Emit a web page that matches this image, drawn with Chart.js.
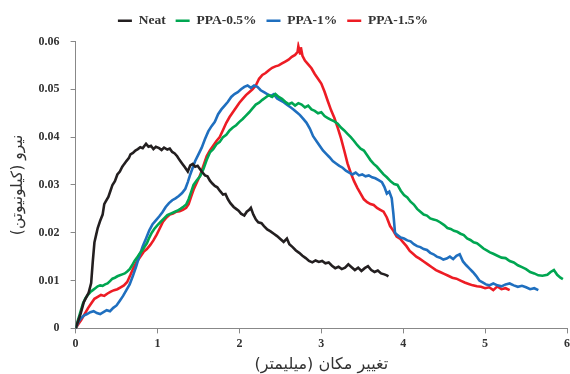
<!DOCTYPE html>
<html>
<head>
<meta charset="utf-8">
<script src="https://cdn.jsdelivr.net/npm/chart.js@4/dist/chart.umd.min.js"></script>
<style>
html,body{margin:0;padding:0;background:#fff;}
#wrap{width:570px;height:374px;}
</style>
</head>
<body>
<div id="wrap"><canvas id="c" width="570" height="374"></canvas></div>
<script>
const seriesNames = ["Neat", "PPA-0.5%", "PPA-1%", "PPA-1.5%"];
const xTicks = [0, 1, 2, 3, 4, 5, 6];
const yTicks = [0, 0.01, 0.02, 0.03, 0.04, 0.05, 0.06];
const xTitle = "تغییر مکان (میلیمتر)";
const yTitle = "نیرو (کیلونیوتن)";

const neatX = [0,0.03,0.06,0.10,0.13,0.16,0.19,0.21,0.23,0.25,0.27,0.30,0.33,0.35,0.37,0.40,0.43,0.45,0.48,0.51,0.54,0.57,0.59,0.62,0.65,0.67,0.70,0.73,0.76,0.79,0.82,0.86,0.89,0.92,0.95,0.98,1.02,1.05,1.08,1.12,1.15,1.18,1.21,1.24,1.27,1.30,1.33,1.37,1.40,1.43,1.46,1.49,1.52,1.55,1.58,1.61,1.64,1.67,1.70,1.73,1.76,1.80,1.83,1.86,1.89,1.93,1.96,1.99,2.02,2.06,2.09,2.12,2.14,2.17,2.20,2.23,2.27,2.30,2.34,2.38,2.42,2.46,2.50,2.54,2.58,2.61,2.65,2.69,2.73,2.77,2.81,2.85,2.89,2.93,2.97,3.01,3.05,3.09,3.13,3.17,3.21,3.25,3.29,3.33,3.37,3.41,3.45,3.49,3.53,3.57,3.61,3.65,3.69,3.73,3.77,3.80,3.82];
const neatY = [0,0.0015,0.0030,0.0055,0.0065,0.0075,0.0095,0.0140,0.0180,0.0195,0.0210,0.0225,0.0238,0.0260,0.0266,0.0275,0.0290,0.0300,0.0308,0.0322,0.0328,0.0338,0.0343,0.0350,0.0356,0.0364,0.0367,0.0372,0.0375,0.0379,0.0377,0.0386,0.0380,0.0382,0.0375,0.0380,0.0377,0.0373,0.0378,0.0374,0.0376,0.0369,0.0366,0.0360,0.0352,0.0345,0.0338,0.0328,0.0341,0.0344,0.0338,0.0340,0.0333,0.0326,0.0320,0.0318,0.0309,0.0303,0.0298,0.0295,0.0288,0.0280,0.0281,0.0270,0.0262,0.0254,0.0250,0.0246,0.0240,0.0236,0.0244,0.0248,0.0252,0.0238,0.0228,0.0222,0.0220,0.0214,0.0207,0.0203,0.0198,0.0193,0.0187,0.0181,0.0188,0.0176,0.0170,0.0163,0.0158,0.0152,0.0147,0.0141,0.0138,0.0142,0.0139,0.0141,0.0136,0.0138,0.0131,0.0126,0.0129,0.0124,0.0127,0.0134,0.0128,0.0122,0.0127,0.0120,0.0126,0.0130,0.0122,0.0118,0.0121,0.0115,0.0113,0.0111,0.0109];

const ppa05X = [0,0.03,0.06,0.09,0.12,0.15,0.18,0.21,0.24,0.27,0.30,0.33,0.36,0.39,0.42,0.45,0.48,0.51,0.54,0.57,0.60,0.63,0.66,0.69,0.72,0.75,0.78,0.81,0.84,0.87,0.90,0.93,0.96,1.00,1.04,1.08,1.12,1.16,1.20,1.24,1.28,1.32,1.35,1.38,1.41,1.44,1.48,1.52,1.56,1.60,1.64,1.68,1.72,1.76,1.80,1.84,1.88,1.92,1.96,2.00,2.04,2.08,2.12,2.16,2.20,2.24,2.28,2.32,2.36,2.40,2.44,2.48,2.52,2.56,2.60,2.64,2.68,2.72,2.76,2.80,2.84,2.88,2.92,2.96,3.00,3.04,3.08,3.12,3.16,3.20,3.24,3.28,3.32,3.36,3.40,3.44,3.48,3.52,3.56,3.60,3.64,3.68,3.72,3.76,3.80,3.85,3.89,3.93,3.97,4.01,4.05,4.09,4.13,4.17,4.21,4.25,4.29,4.33,4.37,4.41,4.45,4.50,4.54,4.58,4.62,4.66,4.70,4.74,4.78,4.82,4.86,4.90,4.94,4.98,5.02,5.06,5.10,5.15,5.20,5.25,5.30,5.35,5.40,5.45,5.50,5.55,5.60,5.65,5.70,5.76,5.80,5.84,5.88,5.92,5.95];
const ppa05Y = [0,0.0018,0.0035,0.0052,0.0063,0.0070,0.0076,0.0080,0.0084,0.0088,0.0090,0.0089,0.0092,0.0094,0.0099,0.0104,0.0106,0.0109,0.0111,0.0113,0.0115,0.0119,0.0124,0.0132,0.0141,0.0148,0.0156,0.0162,0.0170,0.0178,0.0190,0.0200,0.0208,0.0216,0.0223,0.0230,0.0237,0.0240,0.0243,0.0246,0.0250,0.0255,0.0259,0.0270,0.0285,0.0300,0.0310,0.0318,0.0333,0.0352,0.0368,0.0375,0.0385,0.0390,0.0400,0.0405,0.0414,0.0420,0.0425,0.0432,0.0438,0.0445,0.0452,0.0460,0.0468,0.0472,0.0478,0.0483,0.0488,0.0484,0.0490,0.0484,0.0480,0.0474,0.0469,0.0472,0.0466,0.0471,0.0468,0.0462,0.0466,0.0458,0.0455,0.0450,0.0452,0.0444,0.0440,0.0436,0.0433,0.0428,0.0420,0.0414,0.0407,0.0400,0.0392,0.0383,0.0376,0.0372,0.0362,0.0352,0.0344,0.0338,0.0330,0.0322,0.0316,0.0307,0.0302,0.0300,0.0288,0.0279,0.0274,0.0265,0.0259,0.0250,0.0244,0.0238,0.0236,0.0230,0.0228,0.0226,0.0222,0.0216,0.0210,0.0208,0.0204,0.0202,0.0198,0.0195,0.0188,0.0185,0.0180,0.0178,0.0173,0.0167,0.0163,0.0159,0.0156,0.0152,0.0148,0.0147,0.0141,0.0138,0.0132,0.0128,0.0124,0.0118,0.0115,0.0111,0.0110,0.0112,0.0118,0.0122,0.0112,0.0106,0.0103];

const ppa1X = [0,0.03,0.06,0.10,0.14,0.18,0.22,0.26,0.30,0.34,0.38,0.42,0.46,0.50,0.54,0.58,0.62,0.66,0.70,0.74,0.78,0.82,0.86,0.90,0.94,0.98,1.02,1.06,1.10,1.14,1.18,1.22,1.26,1.30,1.34,1.37,1.40,1.43,1.46,1.50,1.54,1.58,1.62,1.66,1.70,1.74,1.78,1.82,1.86,1.90,1.94,1.98,2.02,2.06,2.10,2.14,2.18,2.22,2.26,2.30,2.34,2.38,2.42,2.46,2.50,2.54,2.58,2.62,2.66,2.70,2.74,2.78,2.82,2.86,2.90,2.94,2.98,3.02,3.06,3.10,3.14,3.18,3.22,3.26,3.30,3.34,3.38,3.42,3.46,3.50,3.54,3.58,3.62,3.66,3.70,3.74,3.77,3.80,3.83,3.86,3.88,3.90,3.93,3.97,4.01,4.05,4.09,4.13,4.17,4.21,4.25,4.29,4.33,4.37,4.41,4.45,4.49,4.53,4.57,4.61,4.65,4.69,4.73,4.77,4.81,4.85,4.89,4.93,4.97,5.01,5.05,5.10,5.15,5.20,5.25,5.30,5.35,5.40,5.45,5.50,5.55,5.60,5.65];
const ppa1Y = [0,0.0012,0.0020,0.0027,0.0030,0.0034,0.0036,0.0032,0.0030,0.0034,0.0038,0.0036,0.0043,0.0048,0.0058,0.0068,0.0080,0.0092,0.0110,0.0130,0.0152,0.0172,0.0188,0.0205,0.0218,0.0226,0.0234,0.0243,0.0254,0.0262,0.0268,0.0272,0.0277,0.0283,0.0292,0.0306,0.0322,0.0336,0.0350,0.0364,0.0378,0.0396,0.0412,0.0423,0.0432,0.0448,0.0458,0.0466,0.0474,0.0484,0.0490,0.0494,0.0500,0.0505,0.0508,0.0503,0.0508,0.0505,0.0498,0.0494,0.0490,0.0486,0.0490,0.0481,0.0477,0.0473,0.0468,0.0463,0.0458,0.0452,0.0446,0.0438,0.0430,0.0418,0.0402,0.0392,0.0382,0.0372,0.0365,0.0358,0.0350,0.0345,0.0340,0.0336,0.0330,0.0326,0.0322,0.0326,0.0320,0.0322,0.0318,0.0320,0.0316,0.0314,0.0310,0.0306,0.0296,0.0282,0.0286,0.0272,0.0240,0.0200,0.0195,0.0190,0.0188,0.0184,0.0182,0.0176,0.0172,0.0170,0.0166,0.0164,0.0158,0.0155,0.0150,0.0148,0.0144,0.0146,0.0150,0.0145,0.0152,0.0155,0.0140,0.0132,0.0125,0.0118,0.0110,0.0100,0.0096,0.0092,0.0090,0.0094,0.0090,0.0088,0.0092,0.0094,0.0090,0.0087,0.0089,0.0086,0.0082,0.0084,0.0080];

const ppa15X = [0,0.03,0.07,0.11,0.15,0.19,0.23,0.27,0.31,0.35,0.39,0.43,0.47,0.51,0.55,0.59,0.63,0.67,0.71,0.75,0.79,0.83,0.87,0.91,0.95,0.99,1.03,1.07,1.11,1.15,1.19,1.23,1.27,1.31,1.35,1.38,1.41,1.44,1.48,1.52,1.56,1.60,1.64,1.68,1.72,1.76,1.80,1.84,1.88,1.92,1.96,2.00,2.04,2.08,2.12,2.16,2.20,2.24,2.28,2.32,2.36,2.40,2.44,2.48,2.52,2.56,2.60,2.64,2.68,2.71,2.72,2.74,2.75,2.77,2.80,2.84,2.88,2.92,2.96,3.00,3.04,3.08,3.12,3.16,3.20,3.24,3.28,3.32,3.36,3.40,3.44,3.48,3.52,3.56,3.60,3.64,3.68,3.72,3.76,3.80,3.84,3.88,3.92,3.96,4.00,4.04,4.08,4.12,4.16,4.20,4.25,4.30,4.35,4.40,4.45,4.50,4.55,4.60,4.65,4.70,4.75,4.80,4.85,4.90,4.95,5.00,5.05,5.10,5.15,5.20,5.25,5.30];
const ppa15Y = [0,0.0008,0.0018,0.0030,0.0042,0.0052,0.0062,0.0066,0.0070,0.0068,0.0073,0.0077,0.0080,0.0082,0.0086,0.0090,0.0097,0.0112,0.0128,0.0140,0.0150,0.0160,0.0166,0.0174,0.0184,0.0196,0.0210,0.0224,0.0232,0.0238,0.0240,0.0244,0.0245,0.0248,0.0252,0.0260,0.0275,0.0290,0.0305,0.0320,0.0340,0.0360,0.0372,0.0382,0.0392,0.0400,0.0415,0.0430,0.0442,0.0452,0.0462,0.0472,0.0480,0.0488,0.0494,0.0500,0.0508,0.0522,0.0530,0.0534,0.0540,0.0545,0.0548,0.0550,0.0554,0.0558,0.0562,0.0568,0.0572,0.0578,0.0590,0.0575,0.0588,0.0570,0.0560,0.0552,0.0544,0.0532,0.0522,0.0512,0.0495,0.0475,0.0456,0.0440,0.0420,0.0398,0.0372,0.0345,0.0325,0.0308,0.0294,0.0282,0.0270,0.0264,0.0260,0.0258,0.0252,0.0248,0.0244,0.0232,0.0214,0.0204,0.0192,0.0188,0.0180,0.0172,0.0162,0.0156,0.0150,0.0146,0.0140,0.0134,0.0128,0.0122,0.0118,0.0114,0.0110,0.0106,0.0104,0.0100,0.0096,0.0093,0.0090,0.0088,0.0087,0.0084,0.0086,0.0080,0.0088,0.0082,0.0084,0.0080];

const colors = ["#231f20", "#00a651", "#1f6fbf", "#ed1c24"];

function pts(xs, ys){ return xs.map((x,i)=>({x:x, y:ys[i]})); }
const xsAll = [neatX, ppa05X, ppa1X, ppa15X];
const ysAll = [neatY, ppa05Y, ppa1Y, ppa15Y];

const serif = "'Liberation Serif', 'Times New Roman', serif";
const arabicFont = "'DejaVu Sans', 'Noto Sans', sans-serif";

const legendShift = {
  id: 'legendShift',
  afterLayout(chart) {
    if (chart.legend) { chart.legend.right -= 30; }
  }
};

const chart = new Chart(document.getElementById('c'), {
  type: 'scatter',
  data: {
    datasets: seriesNames.map((n,i)=>({
      label: n,
      data: pts(xsAll[i], ysAll[i]),
      showLine: true,
      borderColor: colors[i],
      backgroundColor: colors[i],
      borderWidth: 2.6,
      pointRadius: 0,
      tension: 0
    }))
  },
  plugins: [legendShift],
  options: {
    responsive: false,
    animation: false,
    layout: { padding: { left: 9, right: 3, top: 4, bottom: 0 } },
    plugins: {
      legend: {
        position: 'top',
        labels: {
          usePointStyle: true,
          pointStyle: 'line',
          pointStyleWidth: 14,
          boxHeight: 10,
          padding: 10,
          color: '#333',
          font: { family: serif, size: 13.5, weight: 'bold' }
        }
      },
      tooltip: { enabled: false }
    },
    scales: {
      x: {
        type: 'linear',
        min: 0, max: 6,
        afterBuildTicks: (ax) => { ax.ticks = xTicks.map(v=>({value:v})); },
        afterFit: (s) => { s.paddingRight = 0; },
        ticks: { color: '#333', font: { family: serif, size: 12, weight: 'bold' }, padding: 3 },
        grid: { display: true, drawOnChartArea: false, tickLength: 5, color: '#888' },
        border: { color: '#888', width: 1 },
        title: { display: true, text: xTitle, color: '#333', font: { family: arabicFont, size: 16 }, padding: { top: 1, bottom: 0 } }
      },
      y: {
        type: 'linear',
        min: 0, max: 0.06,
        afterBuildTicks: (ax) => { ax.ticks = yTicks.map(v=>({value:v})); },
        ticks: { color: '#333', font: { family: serif, size: 12, weight: 'bold' }, padding: 11,
          callback: (v) => v === 0 ? '0' : Number(v).toFixed(2) },
        grid: { display: true, drawOnChartArea: false, tickLength: 5, color: '#888' },
        border: { color: '#888', width: 1 },
        title: { display: true, text: yTitle, color: '#333', font: { family: arabicFont, size: 15.5 }, padding: { top: 0, bottom: 0 } }
      }
    }
  }
});

const origFit = chart.legend.fit;
chart.legend.fit = function() { origFit.call(this); this.height += 4; };
chart.update();
</script>
</body>
</html>
